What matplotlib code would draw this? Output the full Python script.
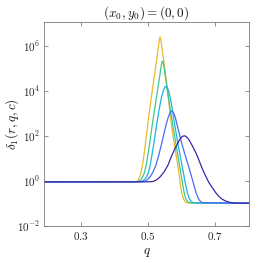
import numpy as np
import matplotlib
matplotlib.use("Agg")
import matplotlib.pyplot as plt

plt.rcParams['mathtext.fontset'] = 'cm'
plt.rcParams['font.family'] = ['DejaVu Serif']

# Curves: q positions and log10(delta_1) values
q_yellow = [0.19, 0.460, 0.466, 0.471, 0.476, 0.481, 0.486, 0.491, 0.498, 0.506, 0.514, 0.522,
            0.527, 0.531, 0.533, 0.535, 0.537, 0.539, 0.542, 0.548, 0.555, 0.562, 0.569, 0.578,
            0.588, 0.596, 0.601, 0.606, 0.611, 0.618, 0.80]
log_yellow = [-0.04, -0.04, -0.02, 0.05, 0.25, 0.55, 1.0, 1.6, 2.45, 3.38, 4.25, 5.05,
              5.6, 6.05, 6.28, 6.40, 6.32, 6.12, 5.8, 5.15, 4.35, 3.4, 2.49, 1.6,
              0.71, -0.18, -0.6, -0.83, -0.94, -0.98, -0.99]

q_green = [0.19, 0.467, 0.473, 0.479, 0.484, 0.489, 0.494, 0.499, 0.504, 0.512, 0.521, 0.528,
           0.533, 0.537, 0.540, 0.542, 0.544, 0.547, 0.551, 0.556, 0.564, 0.573, 0.583, 0.593,
           0.603, 0.608, 0.613, 0.618, 0.625, 0.80]
log_green = [-0.04, -0.04, -0.01, 0.08, 0.2, 0.4, 0.71, 1.15, 1.65, 2.5, 3.38, 4.05,
             4.55, 4.95, 5.23, 5.33, 5.28, 5.05, 4.65, 4.1, 3.35, 2.49, 1.6, 0.71,
             -0.18, -0.6, -0.83, -0.94, -0.98, -0.99]

q_cyan = [0.19, 0.476, 0.482, 0.488, 0.494, 0.500, 0.506, 0.516, 0.524, 0.532, 0.540, 0.546,
          0.550, 0.553, 0.556, 0.561, 0.567, 0.573, 0.579, 0.589, 0.600, 0.611, 0.617,
          0.623, 0.629, 0.637, 0.80]
log_cyan = [-0.04, -0.03, 0.0, 0.05, 0.15, 0.35, 0.71, 1.6, 2.4, 3.15, 3.75, 4.05,
            4.18, 4.21, 4.17, 4.0, 3.6, 3.05, 2.49, 1.6, 0.75, -0.15, -0.55,
            -0.80, -0.93, -0.98, -0.99]

q_blue = [0.19, 0.482, 0.490, 0.497, 0.506, 0.515, 0.523, 0.531, 0.539, 0.546, 0.553, 0.559,
          0.564, 0.567, 0.570, 0.573, 0.577, 0.581, 0.586, 0.593, 0.601, 0.610, 0.619,
          0.628, 0.636, 0.643, 0.650, 0.656, 0.663, 0.80]
log_blue = [-0.04, -0.04, -0.01, 0.05, 0.19, 0.42, 0.71, 1.13, 1.6, 2.05, 2.49, 2.8,
            3.0, 3.08, 3.11, 3.08, 2.98, 2.8, 2.49, 2.08, 1.6, 1.15, 0.71,
            0.25, -0.18, -0.55, -0.80, -0.92, -0.97, -0.99]

q_purple = [0.19, 0.505, 0.515, 0.525, 0.536, 0.548, 0.559, 0.571, 0.580, 0.586, 0.593, 0.600,
            0.607, 0.612, 0.618, 0.624, 0.630, 0.637, 0.645, 0.653, 0.661, 0.670, 0.680,
            0.690, 0.700, 0.710, 0.720, 0.730, 0.740, 0.750, 0.765, 0.80]
log_purple = [-0.04, -0.04, -0.02, 0.05, 0.19, 0.42, 0.71, 1.16, 1.45, 1.62, 1.82, 1.96,
              2.01, 1.98, 1.9, 1.76, 1.6, 1.4, 1.15, 0.85, 0.55, 0.25, -0.05,
              -0.28, -0.5, -0.68, -0.81, -0.89, -0.94, -0.97, -0.99, -0.99]

# drawing order: yellow first, purple last (purple on top)
series = [
    (q_yellow, log_yellow, '#EDB830'),
    (q_green, log_green, '#3DC98A'),
    (q_cyan, log_cyan, '#1FB3E0'),
    (q_blue, log_blue, '#4A6CF5'),
    (q_purple, log_purple, '#3E26A8'),
]

x_ticks = [0.3, 0.5, 0.7]
y_ticks = [1e-2, 1e0, 1e2, 1e4, 1e6]
y_tick_labels = [r'$10^{-2}$', r'$10^{0}$', r'$10^{2}$', r'$10^{4}$', r'$10^{6}$']

fig = plt.figure(figsize=(2.75, 2.63), dpi=100)
ax = fig.add_axes([0.161, 0.141, 0.744, 0.775])

for q, lg, c in series:
    ax.plot(q, 10 ** np.array(lg), color=c, lw=0.9, solid_joinstyle='round')

ax.set_yscale('log')
ax.set_xlim(0.19, 0.8)
ax.set_ylim(1e-2, 1.15e7)
ax.set_xticks(x_ticks)
ax.set_xticklabels([rf'${t:.1f}$' for t in x_ticks])
ax.set_yticks(y_ticks)
ax.set_yticklabels(y_tick_labels)
ax.yaxis.set_minor_locator(matplotlib.ticker.NullLocator())

ax.tick_params(direction='in', top=True, right=True, length=3, width=0.5,
               color='#666666', labelsize=8, labelcolor='#262626', pad=3)
for s in ax.spines.values():
    s.set_color('#7a7a7a')
    s.set_linewidth(0.6)

ax.set_title(r'$(x_0,y_0)=(0,0)$', fontsize=9.5, color='#1a1a1a', pad=4)
ax.set_xlabel(r'$q$', fontsize=9.5, color='#1a1a1a', labelpad=3)
ax.set_ylabel(r'$\delta_1(r,q,c)$', fontsize=9.5, color='#1a1a1a')
ax.yaxis.set_label_coords(-0.115, 0.5)

fig.savefig('out.png', dpi=100)
